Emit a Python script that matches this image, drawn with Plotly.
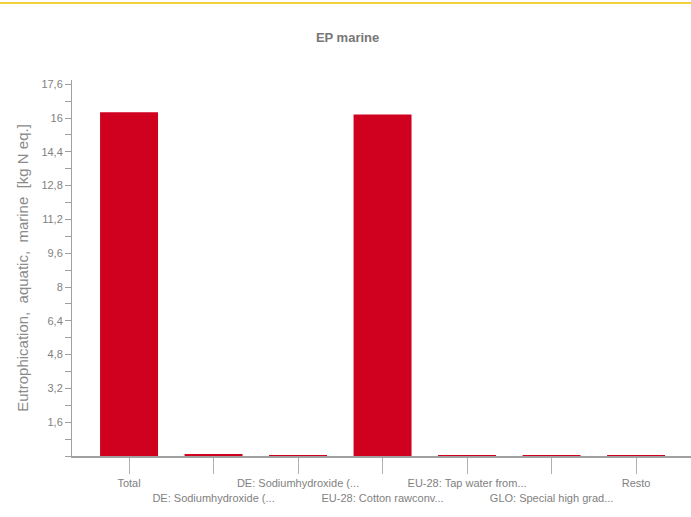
import plotly.graph_objects as go

categories = [
    "Total",
    "DE: Sodiumhydroxide (...",
    "DE: Sodiumhydroxide (...",
    "EU-28: Cotton rawconv...",
    "EU-28: Tap water from...",
    "GLO: Special high grad...",
    "Resto",
]
values = [16.27, 0.05, 0.02, 16.17, 0.02, 0.04, 0.02]
y_ticks = [1.6, 3.2, 4.8, 6.4, 8, 9.6, 11.2, 12.8, 14.4, 16, 17.6]

title = "EP marine"
y_title = "Eutrophication,\u00a0\u00a0aquatic,\u00a0\u00a0marine\u00a0\u00a0[kg N eq.]"

xpos = list(range(len(categories)))
ticktext = [c if i % 2 == 0 else " <br>" + c for i, c in enumerate(categories)]

FONT = "Liberation Sans, Arial, sans-serif"
GRAY = "#7f7f7f"

fig = go.Figure(
    go.Bar(
        x=xpos,
        y=values,
        width=0.686,
        marker=dict(color="#d0011f", line=dict(width=0)),
        hoverinfo="x+y",
    )
)

fig.update_layout(
    width=691,
    height=517,
    margin=dict(l=72, r=0, t=80, b=61, autoexpand=False),
    paper_bgcolor="white",
    plot_bgcolor="white",
    separators=",.",
    showlegend=False,
    font=dict(family=FONT, color=GRAY),
    title=dict(
        text="<b>" + title + "</b>",
        x=0.503,
        xref="container",
        y=1 - 37 / 517,
        yanchor="middle",
        font=dict(family=FONT, size=13, color="#777777"),
    ),
    bargap=0.3,
)

fig.update_xaxes(
    range=[-0.675, 6.65],
    tickmode="array",
    tickvals=xpos,
    ticktext=ticktext,
    tickangle=0,
    ticks="outside",
    ticklen=16,
    tickcolor="#b0b0b0",
    tickwidth=1,
    tickfont=dict(family=FONT, size=11, color=GRAY),
    showline=True,
    linecolor="#a0a0a0",
    linewidth=2,
    showgrid=False,
    zeroline=False,
    fixedrange=True,
    automargin=False,
)

fig.update_yaxes(
    range=[0, 17.8],
    tickmode="array",
    tickvals=y_ticks,
    ticktext=[("%g" % v).replace(".", ",") for v in y_ticks],
    ticks="outside",
    ticklen=6,
    tickcolor="#a0a0a0",
    tickwidth=1,
    tickfont=dict(family=FONT, size=11, color=GRAY),
    minor=dict(ticks="outside", ticklen=6, tickcolor="#a0a0a0", dtick=0.8, tick0=0, showgrid=False),
    showline=True,
    linecolor="#a0a0a0",
    linewidth=1,
    showgrid=False,
    zeroline=False,
    title=dict(
        text=y_title,
        font=dict(family=FONT, size=15, color="#8a8a8a"),
        standoff=9,
    ),
    fixedrange=True,
    automargin=False,
)

fig.add_shape(
    type="line",
    xref="paper",
    yref="paper",
    x0=-72 / 619,
    x1=1,
    y0=(456 - 3) / 376,
    y1=(456 - 3) / 376,
    line=dict(color="#f3d23c", width=2),
)

fig.write_html(
    "out.html",
    config={"displayModeBar": False},
    post_script="document.body.style.margin='0';",
)
